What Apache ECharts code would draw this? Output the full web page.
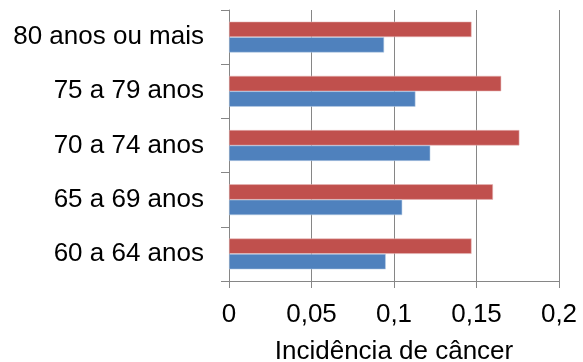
<!DOCTYPE html>
<html>
<head>
<meta charset="utf-8">
<script src="https://cdn.jsdelivr.net/npm/echarts@6/dist/echarts.min.js"></script>
<style>
  html, body { margin: 0; padding: 0; background: #fff; }
  #chart { width: 583px; height: 362px; }
</style>
</head>
<body>
<div id="chart"></div>
<script>
// Age groups, listed bottom to top
const categories = ['60 a 64 anos', '65 a 69 anos', '70 a 74 anos', '75 a 79 anos', '80 anos ou mais'];
// Blue series (lower bar in each group)
const blueValues = [0.095, 0.105, 0.122, 0.113, 0.094];
// Red series (upper bar in each group)
const redValues = [0.147, 0.160, 0.176, 0.165, 0.147];
// X axis ticks
const xTicks = [0, 0.05, 0.1, 0.15, 0.2];
const xTitle = 'Incidência de câncer';

const FONT = 'Liberation Sans, Arial, sans-serif';
const AXIS_GRAY = '#868686';

const chart = echarts.init(document.getElementById('chart'), null, { renderer: 'canvas' });
chart.setOption({
  animation: false,
  backgroundColor: '#ffffff',
  grid: { left: 229, right: 24, top: 10, bottom: 81, containLabel: false, outerBoundsMode: 'none' },
  xAxis: {
    type: 'value',
    min: xTicks[0],
    max: xTicks[xTicks.length - 1],
    interval: xTicks[1] - xTicks[0],
    name: xTitle,
    nameLocation: 'middle',
    nameGap: 58,
    nameTextStyle: { fontFamily: FONT, fontSize: 26, color: '#000' },
    axisLine: { show: true, lineStyle: { color: AXIS_GRAY, width: 1 } },
    axisTick: { show: true, length: 7, lineStyle: { color: AXIS_GRAY, width: 1 } },
    axisLabel: {
      margin: 21,
      fontFamily: FONT, fontSize: 26, color: '#000',
      formatter: v => String(v).replace('.', ',')
    },
    splitLine: { show: true, lineStyle: { color: AXIS_GRAY, width: 1 } }
  },
  yAxis: {
    type: 'category',
    data: categories,
    axisLine: { show: true, lineStyle: { color: AXIS_GRAY, width: 1 } },
    axisTick: { show: true, length: 8, lineStyle: { color: AXIS_GRAY, width: 1 } },
    axisLabel: { margin: 25, fontFamily: FONT, fontSize: 26, color: '#000' },
    splitLine: { show: false }
  },
  // Within a group the first series is drawn on top, so red comes first
  series: [
    {
      type: 'bar',
      data: redValues,
      barGap: '0%',
      barCategoryGap: '43%',
      itemStyle: { color: '#C0504D', borderColor: 'rgba(230,185,184,0.9)', borderWidth: 0.6 }
    },
    {
      type: 'bar',
      data: blueValues,
      barGap: '0%',
      barCategoryGap: '43%',
      itemStyle: { color: '#4F81BD', borderColor: 'rgba(185,205,229,0.9)', borderWidth: 0.6 }
    }
  ]
});
</script>
</body>
</html>
